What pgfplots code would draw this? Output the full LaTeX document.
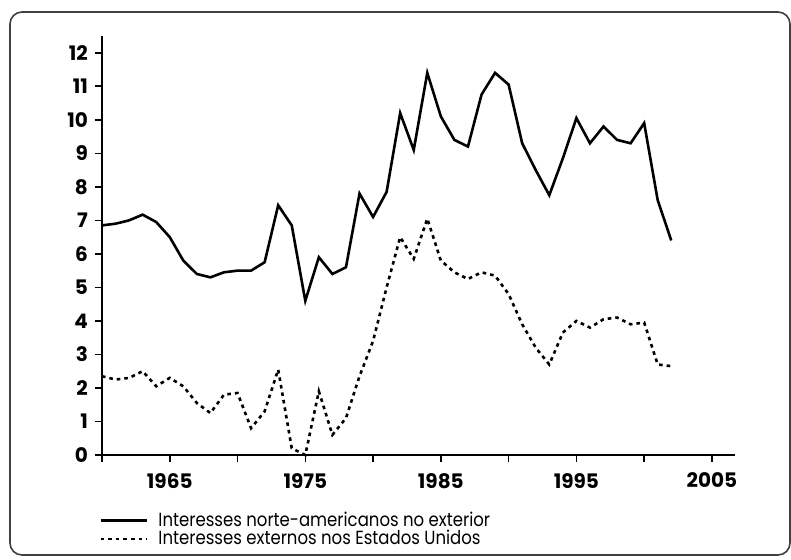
\documentclass[border=0pt]{standalone}
\usepackage{fontspec}
\setmainfont{Poppins}
\newfontfamily\legfont[FakeStretch=0.87]{Poppins}
\usepackage{pgfplots}
\usepackage{pgfplotstable}
\pgfplotsset{compat=1.18}
\pgfplotstableread{
year a b
1960 6.85 2.35
1961 6.90 2.25
1962 7.00 2.30
1963 7.17 2.50
1964 6.95 2.05
1965 6.50 2.30
1966 5.80 2.05
1967 5.40 1.55
1968 5.30 1.25
1969 5.45 1.80
1970 5.50 1.85
1971 5.50 0.80
1972 5.75 1.30
1973 7.45 2.55
1974 6.85 0.20
1975 4.60 0.00
1976 5.90 1.90
1977 5.40 0.60
1978 5.60 1.10
1979 7.80 2.35
1980 7.10 3.40
1981 7.85 5.00
1982 10.20 6.50
1983 9.10 5.85
1984 11.40 7.05
1985 10.10 5.80
1986 9.40 5.45
1987 9.20 5.25
1988 10.75 5.45
1989 11.40 5.35
1990 11.05 4.80
1991 9.30 3.90
1992 8.50 3.20
1993 7.75 2.70
1994 8.85 3.65
1995 10.05 4.00
1996 9.30 3.80
1997 9.80 4.05
1998 9.40 4.10
1999 9.30 3.90
2000 9.90 3.95
2001 7.60 2.70
2002 6.40 2.65
}\data
\begin{document}
\begin{tikzpicture}
\begin{axis}[
  scale only axis, width=316.5pt, height=209.5pt,
  xmin=1960, xmax=2006.7, ymin=0, ymax=12.5,
  axis x line=bottom, axis y line=left,
  axis line style={-, line width=1pt, black},
  xtick={1960,1965,...,2005},
  xticklabels={,1965,,1975,,1985,,1995,,2005},
  ytick={0,1,...,12},
  tick align=outside, major tick length=3.5pt,
  tick style={line width=0.8pt, black},
  ticklabel style={font=\fontsize{10}{12}\selectfont\bfseries},
  xticklabel style={yshift=-2pt},
  /pgf/number format/assume math mode=true,
  clip=false,
  legend style={at={(axis description cs:-0.005,-0.125)}, anchor=north west,
    draw=none, fill=none, inner sep=0pt, row sep=-3.5pt,
    font=\legfont\fontsize{9.5}{11}\selectfont,
    /tikz/every odd column/.append style={column sep=3pt}},
  legend cell align=left,
  legend image code/.code={\draw[#1] (0cm,0cm) -- (0.82cm,0cm);},
]
\addplot[black, line width=1.3pt] table[x=year,y=a] {\data};
\addlegendentry{Interesses norte-americanos no exterior}
\addplot[black, line width=1.3pt, dash pattern=on 1.8pt off 2pt] table[x=year,y=b] {\data};
\addlegendentry{Interesses externos nos Estados Unidos}
\draw[rounded corners=6pt, line width=0.8pt, black!75]
  (axis description cs:-0.1453,-0.2387) rectangle (axis description cs:1.0869,1.0573);
\coordinate (bbsw) at (axis description cs:-0.1611,-0.2506);
\coordinate (bbne) at (axis description cs:1.0885,1.0859);
\end{axis}
\pgfresetboundingbox
\path[use as bounding box] (bbsw) rectangle (bbne);
\end{tikzpicture}
\end{document}
